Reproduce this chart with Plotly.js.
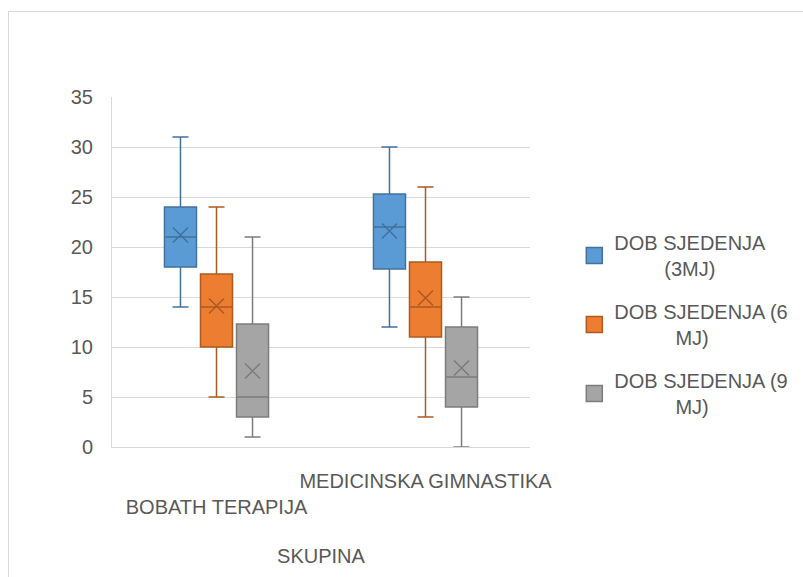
<!DOCTYPE html>
<html>
<head>
<meta charset="utf-8">
<script src="https://cdn.plot.ly/plotly-3.0.1.min.js"></script>
<style>
  html, body { margin: 0; padding: 0; background: #ffffff; }
  #wrap { position: relative; width: 803px; height: 577px; overflow: hidden; }
  #chart { position: absolute; left: 0; top: 0; width: 803px; height: 577px; }
  #frame { position: absolute; left: 8px; top: 11px; width: 900px; height: 700px;
           border-top: 1px solid #D9D9D9; border-left: 1px solid #D9D9D9; pointer-events: none; }
</style>
</head>
<body>
<div id="wrap"><div id="chart"></div><div id="frame"></div></div>
<script>
// Categories and tick labels
const categories = ["BOBATH TERAPIJA", "MEDICINSKA GIMNASTIKA"];
const tickLabels = ["\u00a0<br>BOBATH TERAPIJA", "MEDICINSKA GIMNASTIKA"];
const seriesNames = ["DOB SJEDENJA<br>\u00a0\u00a0\u00a0\u00a0\u00a0\u00a0\u00a0\u00a0\u00a0(3MJ)",
                     "DOB SJEDENJA (6<br>\u00a0\u00a0\u00a0\u00a0\u00a0\u00a0\u00a0\u00a0\u00a0\u00a0\u00a0MJ)",
                     "DOB SJEDENJA (9<br>\u00a0\u00a0\u00a0\u00a0\u00a0\u00a0\u00a0\u00a0\u00a0\u00a0\u00a0MJ)"];

// Series statistics: [BOBATH, MEDICINSKA]
const min3 = [14, 12],  q1_3 = [18, 17.8], med3 = [21, 22], q3_3 = [24, 25.3], max3 = [31, 30], mean3 = [21.2, 21.6];
const min6 = [5, 3],    q1_6 = [10, 11],   med6 = [14, 14], q3_6 = [17.3, 18.5], max6 = [24, 26], mean6 = [14.1, 14.9];
const min9 = [1, 0],    q1_9 = [3, 4],     med9 = [5, 7],   q3_9 = [12.3, 12], max9 = [21, 15], mean9 = [7.6, 7.9];

const fills = ["#5B9BD5", "#ED7D31", "#A5A5A5"];
const lines = ["#41719C", "#AE5A21", "#7C7C7C"];

const stats = [
  [min3, q1_3, med3, q3_3, max3, mean3],
  [min6, q1_6, med6, q3_6, max6, mean6],
  [min9, q1_9, med9, q3_9, max9, mean9]
];

const traces = [];
stats.forEach((s, i) => {
  traces.push({
    type: "box",
    name: seriesNames[i],
    showlegend: false,
    offsetgroup: "g" + i,
    x: categories,
    lowerfence: s[0], q1: s[1], median: s[2], q3: s[3], upperfence: s[4],
    boxpoints: false,
    fillcolor: fills[i],
    line: { color: lines[i], width: 1.5 },
    whiskerwidth: 0.5,
    hoverinfo: "skip"
  });
});
stats.forEach((s, i) => {
  traces.push({
    type: "scatter",
    mode: "markers",
    x: categories,
    y: s[5],
    offsetgroup: "g" + i,
    showlegend: false,
    marker: { symbol: "x-thin", size: 15, color: lines[i], line: { color: lines[i], width: 1.5 } },
    hoverinfo: "skip"
  });
});
// legend entries (square swatches)
stats.forEach((s, i) => {
  traces.push({
    type: "scatter",
    mode: "markers",
    name: seriesNames[i],
    legendgroup: "g" + i,
    offsetgroup: "g" + i,
    x: [null], y: [null],
    marker: { symbol: "square", size: 16, color: fills[i], line: { color: lines[i], width: 1.5 } },
    hoverinfo: "skip"
  });
});

const layout = {
  width: 803, height: 577,
  margin: { l: 112, r: 273, t: 97, b: 130, autoexpand: false },
  paper_bgcolor: "#ffffff",
  plot_bgcolor: "#ffffff",
  font: { family: "Liberation Sans, Arial, sans-serif", size: 20, color: "#595959" },
  boxmode: "group",
  boxgap: 0.483,
  boxgroupgap: 0.111,
  scattermode: "group",
  scattergap: 0.483,
  showlegend: true,
  legend: {
    x: 1.106, xanchor: "left", y: 0.35, yanchor: "middle",
    traceorder: "grouped", tracegroupgap: 14,
    itemsizing: "trace",
    font: { size: 20, color: "#595959" }
  },
  xaxis: {
    type: "category",
    tickmode: "array",
    tickvals: categories,
    ticktext: tickLabels,
    tickangle: 0,
    ticks: "",
    ticklabelstandoff: 16,
    showgrid: false,
    showline: true, linecolor: "#D9D9D9", linewidth: 1,
    zeroline: false,
    title: { text: "SKUPINA", standoff: 31, font: { size: 20, color: "#595959" } }
  },
  yaxis: {
    range: [0, 35],
    dtick: 5,
    tick0: 0,
    showgrid: true, gridcolor: "#D9D9D9", gridwidth: 1,
    showline: true, linecolor: "#D9D9D9", linewidth: 1,
    zeroline: false,
    ticks: "",
    ticklabelstandoff: 14
  }
};

Plotly.newPlot("chart", traces, layout, { displayModeBar: false, staticPlot: true });
</script>
</body>
</html>
